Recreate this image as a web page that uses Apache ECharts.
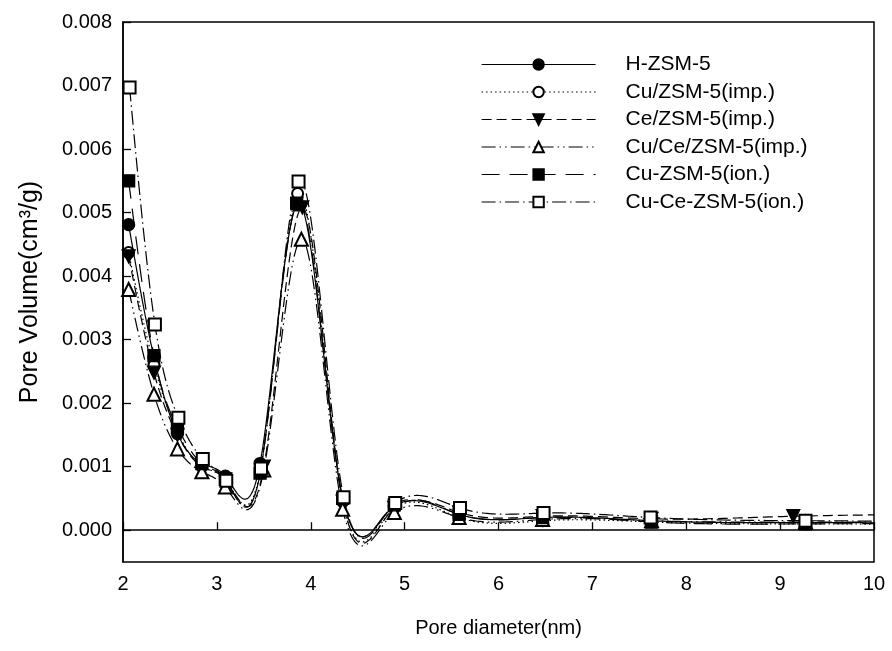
<!DOCTYPE html>
<html>
<head>
<meta charset="utf-8">
<script src="https://cdn.jsdelivr.net/npm/echarts@6/dist/echarts.min.js"></script>
<style>
html,body{margin:0;padding:0;background:#fff;}
#chart{width:892px;height:651px;}
</style>
</head>
<body>
<div id="chart"></div>
<script>
// ---- data (pore volume in cm3/g) ----
const seriesNames = ['H-ZSM-5', 'Cu/ZSM-5(imp.)', 'Ce/ZSM-5(imp.)', 'Cu/Ce/ZSM-5(imp.)', 'Cu-ZSM-5(ion.)', 'Cu-Ce-ZSM-5(ion.)'];

const xH     = [2.06, 2.33, 2.58, 2.84, 3.09, 3.46, 3.85, 4.34, 4.89, 5.58, 6.47, 7.63, 9.27, 11.6];
const yH     = [0.00481, 0.00272, 0.00152, 0.00105, 0.00085, 0.00105, 0.00512, 0.00050, 0.00038, 0.00025, 0.00020, 0.00015, 0.00012, 0.00010];

const xCu    = [2.06, 2.33, 2.58, 2.84, 3.09, 3.47, 3.86, 4.34, 4.89, 5.58, 6.47, 7.63, 9.27, 11.6];
const yCu    = [0.00437, 0.00260, 0.00155, 0.00100, 0.00080, 0.00100, 0.00530, 0.00045, 0.00035, 0.00020, 0.00015, 0.00013, 0.00010, 0.00008];

const xCe    = [2.06, 2.33, 2.58, 2.84, 3.09, 3.50, 3.91, 4.34, 4.89, 5.58, 6.47, 7.63, 9.14, 11.6];
const yCe    = [0.00431, 0.00248, 0.00150, 0.00100, 0.00080, 0.00100, 0.00508, 0.00045, 0.00035, 0.00028, 0.00022, 0.00018, 0.00022, 0.00025];

const xCuCe  = [2.06, 2.33, 2.58, 2.84, 3.09, 3.50, 3.90, 4.34, 4.89, 5.58, 6.47, 7.63, 9.27, 11.6];
const yCuCe  = [0.00379, 0.00214, 0.00128, 0.00092, 0.00068, 0.00095, 0.00458, 0.00033, 0.00028, 0.00020, 0.00017, 0.00015, 0.00013, 0.00010];

const xCuIon = [2.06, 2.33, 2.58, 2.84, 3.09, 3.46, 3.85, 4.34, 4.89, 5.58, 6.47, 7.63, 9.27, 11.6];
const yCuIon = [0.00550, 0.00275, 0.00162, 0.00105, 0.00080, 0.00090, 0.00515, 0.00050, 0.00040, 0.00025, 0.00020, 0.00013, 0.00010, 0.00010];

const xCuCeIon = [2.07, 2.34, 2.59, 2.85, 3.10, 3.47, 3.87, 4.35, 4.90, 5.59, 6.48, 7.62, 9.27, 11.6];
const yCuCeIon = [0.00697, 0.00324, 0.00177, 0.00112, 0.00078, 0.00097, 0.00549, 0.00052, 0.00043, 0.00035, 0.00027, 0.00020, 0.00015, 0.00012];

const xTicks = [2, 3, 4, 5, 6, 7, 8, 9, 10];
const yTicks = [0, 0.001, 0.002, 0.003, 0.004, 0.005, 0.006, 0.007, 0.008];

// ---- build ----
const X_MIN = 2, X_MAX = 10;
const xs = [xH, xCu, xCe, xCuCe, xCuIon, xCuCeIon];
const ys = [yH, yCu, yCe, yCuCe, yCuIon, yCuCeIon];
const symbols = ['circle', 'emptyCircle', 'triangle', 'emptyTriangle', 'rect', 'emptyRect'];
const rotates = [0, 0, 180, 0, 0, 0];
const sizes = [12, 11, 13, 13, 12, 12];
const dashes = [null, [1.5, 3], [10, 5], [14, 4, 1.5, 4, 1.5, 4], [18, 10], [14, 4, 1.5, 4]];
const LW = 1.2;

const FONT = '"Liberation Sans", Arial, sans-serif';

// Smooth curve through the data points (spline-like rendering, as in the original plotting program)
function splineSecondDerivs(x, y) {
  const n = x.length;
  const M = new Array(n).fill(0);
  if (n < 3) return M;
  const a = [], b = [], c = [], d = [];
  for (let i = 1; i < n - 1; i++) {
    const h0 = x[i] - x[i - 1], h1 = x[i + 1] - x[i];
    a.push(h0); b.push(2 * (h0 + h1)); c.push(h1);
    d.push(6 * ((y[i + 1] - y[i]) / h1 - (y[i] - y[i - 1]) / h0));
  }
  const m = b.length;
  for (let i = 1; i < m; i++) {
    const w = a[i] / b[i - 1];
    b[i] -= w * c[i - 1];
    d[i] -= w * d[i - 1];
  }
  const sol = new Array(m);
  sol[m - 1] = d[m - 1] / b[m - 1];
  for (let i = m - 2; i >= 0; i--) sol[i] = (d[i] - c[i] * sol[i + 1]) / b[i];
  for (let i = 0; i < m; i++) M[i + 1] = sol[i];
  return M;
}
function curveTangents(x, y) {
  const n = x.length;
  const M = splineSecondDerivs(x, y);
  const t = [];
  for (let i = 0; i < n; i++) {
    let nat, fd;
    if (i < n - 1) {
      const h = x[i + 1] - x[i];
      nat = (y[i + 1] - y[i]) / h - h * (2 * M[i] + M[i + 1]) / 6;
    } else {
      const h = x[i] - x[i - 1];
      nat = (y[i] - y[i - 1]) / h + h * (M[i - 1] + 2 * M[i]) / 6;
    }
    if (i === 0) fd = (y[1] - y[0]) / (x[1] - x[0]);
    else if (i === n - 1) fd = (y[i] - y[i - 1]) / (x[i] - x[i - 1]);
    else fd = (y[i + 1] - y[i - 1]) / (x[i + 1] - x[i - 1]);
    const a = x[i] < 4.0 ? 1.0 : 0.45;
    t.push(a * nat + (1 - a) * fd);
  }
  return t;
}
function curveSamples(x, y) {
  const m = curveTangents(x, y);
  const pts = [];
  for (let i = 0; i < x.length - 1; i++) {
    const h = x[i + 1] - x[i];
    const N = 40;
    for (let k = (i === 0 ? 0 : 1); k <= N; k++) {
      let xv = x[i] + h * k / N;
      let stop = false;
      if (xv >= X_MAX) { xv = X_MAX; stop = true; }
      const s = (xv - x[i]) / h;
      const s2 = s * s, s3 = s2 * s;
      const yv = (2 * s3 - 3 * s2 + 1) * y[i] + (s3 - 2 * s2 + s) * h * m[i] +
                 (-2 * s3 + 3 * s2) * y[i + 1] + (s3 - s2) * h * m[i + 1];
      pts.push([xv, yv]);
      if (stop) return pts;
    }
  }
  return pts;
}

const curveSeries = seriesNames.map((name, i) => {
  const samples = curveSamples(xs[i], ys[i]);
  return {
    name: name + ' curve',
    type: 'custom',
    z: 1,
    clip: true,
    silent: true,
    data: xs[i].map((x, j) => [x, ys[i][j]]),
    encode: { x: 0, y: 1 },
    renderItem: function (params, api) {
      if (params.dataIndex !== 0) return null;
      const pts = samples.map(p => api.coord(p));
      return {
        type: 'polyline',
        shape: { points: pts },
        style: { stroke: '#000', lineWidth: LW, fill: null, lineDash: dashes[i] }
      };
    }
  };
});

const markerSeries = seriesNames.map((name, i) => ({
  name: name,
  type: 'line',
  z: 3,
  data: xs[i].map((x, j) => [x, ys[i][j]]),
  symbol: symbols[i],
  symbolRotate: rotates[i],
  symbolSize: sizes[i],
  showAllSymbol: true,
  clip: true,
  lineStyle: { color: '#000', width: 0, opacity: 0 },
  itemStyle: { color: '#000', borderColor: '#000', borderWidth: 1.3 },
  emphasis: { disabled: true }
}));

const legendData = seriesNames.map((name, i) => ({
  name: name,
  lineStyle: { color: '#000', width: LW, opacity: 1, type: dashes[i] || 'solid' }
}));

const chart = echarts.init(document.getElementById('chart'));
chart.setOption({
  animation: false,
  backgroundColor: '#fff',
  grid: {
    left: 123, right: 18, top: 22, bottom: 89,
    show: true, borderColor: '#000', borderWidth: 1.5, backgroundColor: 'transparent'
  },
  legend: {
    orient: 'vertical',
    left: 481, top: 54,
    padding: 0,
    itemWidth: 114, itemHeight: 13, itemGap: 6.5,
    selectedMode: false,
    textStyle: { fontFamily: FONT, fontSize: 21, color: '#000', padding: [0, 0, 0, 25] },
    data: legendData
  },
  xAxis: {
    type: 'value', min: X_MIN, max: X_MAX, interval: 1,
    name: 'Pore diameter(nm)', nameLocation: 'middle', nameGap: 56,
    nameTextStyle: { fontFamily: FONT, fontSize: 20, color: '#000' },
    axisLine: { show: true, lineStyle: { color: '#000', width: 1.5 } },
    axisTick: { show: true, inside: true, length: 8, customValues: xTicks, lineStyle: { color: '#000', width: 1.3 } },
    axisLabel: { fontFamily: FONT, fontSize: 20, color: '#000', margin: 12, customValues: xTicks, formatter: v => String(v) },
    splitLine: { show: false }
  },
  yAxis: {
    type: 'value', min: -0.0005, max: 0.008,
    name: 'Pore Volume(cm³/g)', nameLocation: 'middle', nameGap: 80,
    nameTextStyle: { fontFamily: FONT, fontSize: 25, color: '#000' },
    axisLine: { show: true, lineStyle: { color: '#000', width: 1.5 } },
    axisTick: { show: true, inside: true, length: 8, customValues: yTicks, lineStyle: { color: '#000', width: 1.3 } },
    axisLabel: { fontFamily: FONT, fontSize: 20, color: '#000', margin: 11, customValues: yTicks, formatter: v => v.toFixed(3) },
    splitLine: { show: false }
  },
  series: curveSeries.concat(markerSeries)
});
</script>
</body>
</html>
